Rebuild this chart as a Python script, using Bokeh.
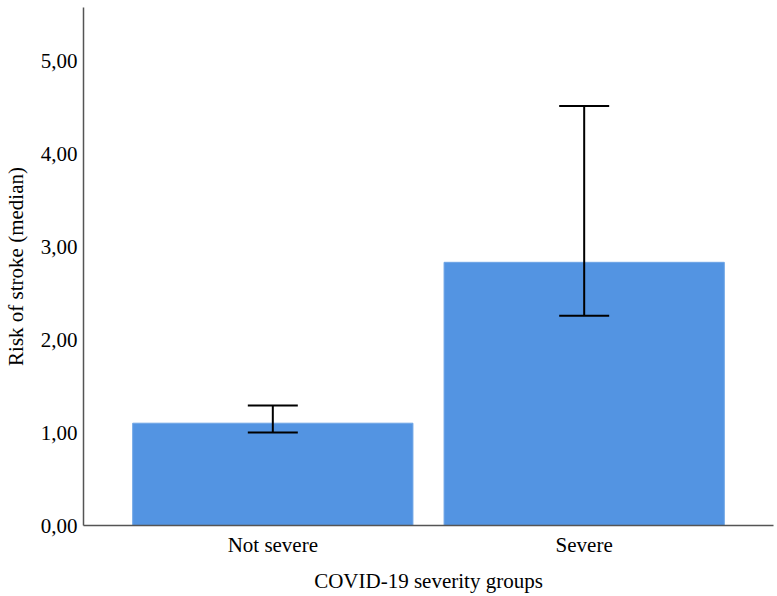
from bokeh.plotting import figure
from bokeh.models import ColumnDataSource, Whisker, TeeHead, FactorRange, Range1d, CustomJSTickFormatter
from bokeh.embed import file_html
from bokeh.resources import INLINE

categories = ["Not severe", "Severe"]
median_risk = [1.10, 2.83]
ci_lower = [1.00, 2.255]
ci_upper = [1.29, 4.51]
y_ticks = [0, 1, 2, 3, 4, 5]

source = ColumnDataSource(dict(x=categories, top=median_risk, lower=ci_lower, upper=ci_upper))

FONT = "Liberation Serif"

p = figure(
    width=775, height=596,
    x_range=FactorRange(*categories, range_padding=0.108, range_padding_units="absolute"),
    y_range=Range1d(0, 5.57),
    output_backend="svg", toolbar_location=None,
    min_border_left=83, min_border_right=2, min_border_top=7, min_border_bottom=71,
)
p.outline_line_color = None
p.grid.visible = False
p.background_fill_color = "white"
p.border_fill_color = "white"

p.vbar(x="x", top="top", width=0.9, source=source,
       fill_color="#5394e2", line_color="#6ea5e6", line_width=1)

w = Whisker(base="x", lower="lower", upper="upper", source=source,
            line_color="black", line_width=2, level="overlay",
            upper_head=TeeHead(size=50, line_color="black", line_width=2),
            lower_head=TeeHead(size=50, line_color="black", line_width=2))
p.add_layout(w)

for ax in (p.xaxis[0], p.yaxis[0]):
    ax.axis_line_color = "#555555"
    ax.axis_line_width = 1.5
    ax.major_tick_out = 0
    ax.major_tick_in = 0
    ax.minor_tick_out = 0
    ax.minor_tick_in = 0
    ax.major_label_text_font = FONT
    ax.major_label_text_font_size = "21px"
    ax.major_label_text_color = "black"
    ax.axis_label_text_font = FONT
    ax.axis_label_text_font_size = "21px"
    ax.axis_label_text_font_style = "normal"
    ax.axis_label_text_color = "black"

p.yaxis.ticker = y_ticks
p.yaxis.formatter = CustomJSTickFormatter(code="return tick.toFixed(2).replace('.', ',');")
p.yaxis.major_label_standoff = 6
p.yaxis.axis_label = "Risk of stroke (median)"
p.yaxis.axis_label_standoff = 10

p.xaxis.major_label_standoff = 7
p.xaxis.axis_label = "COVID-19 severity groups"
p.xaxis.axis_label_standoff = 9

open("out.html", "w").write(file_html(p, INLINE))
